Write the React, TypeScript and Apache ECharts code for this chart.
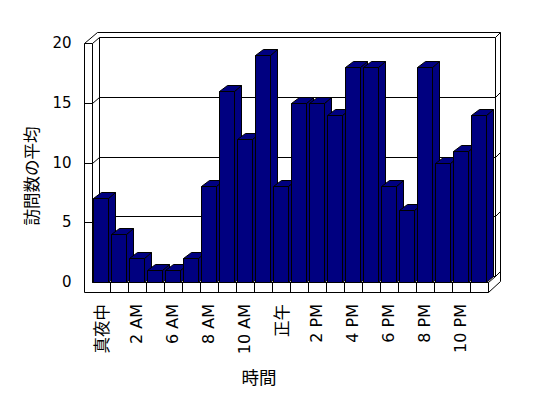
import React, { useEffect, useRef } from "react";
import * as echarts from "echarts";

const categories = [
  "真夜中", "1 AM", "2 AM", "3 AM", "6 AM", "7 AM", "8 AM", "9 AM", "10 AM", "11 AM",
  "正午", "1 PM", "2 PM", "3 PM", "4 PM", "5 PM", "6 PM", "7 PM", "8 PM", "9 PM", "10 PM", "11 PM",
];
const visits = [7, 4, 2, 1, 1, 2, 8, 16, 12, 19, 8, 15, 15, 14, 18, 18, 8, 6, 18, 10, 11, 14];
const yMin = 0;
const yMax = 20;
const yStep = 5;
const yAxisTitle = "訪問数の平均";
const xAxisTitle = "時間";

const DX = 7.5;
const DY = -6;
const BX = 5;
const BY = -5;
const WALL_T = 7.5;
const FLOOR_T = 10;
const FONT_LATIN = "'DejaVu Sans', 'Noto Sans CJK JP', sans-serif";
const FONT_CJK = "'Noto Sans CJK JP', sans-serif";

const s = (v: number) => Math.round(v) + 0.5;

function line(ax: number, ay: number, bx: number, by: number) {
  return {
    type: "line",
    shape: { x1: s(ax), y1: s(ay), x2: s(bx), y2: s(by) },
    style: { stroke: "#000", lineWidth: 1 },
  };
}
function poly(pts: number[][], fill: string, stroke = "#000") {
  return {
    type: "polygon",
    shape: { points: pts.map(([a, b]) => [s(a), s(b)]) },
    style: { fill, stroke, lineWidth: 1 },
  };
}

export default function App() {
  const ref = useRef<HTMLDivElement>(null);
  useEffect(() => {
    if (!ref.current) return;
    const chart = echarts.init(ref.current, null, { renderer: "svg" });
    const n = categories.length;
    const option = {
      animation: false,
      backgroundColor: "#fff",
      grid: { left: 91.5, right: 60.5, top: 43, bottom: 116 },
      xAxis: {
        type: "category",
        data: categories,
        boundaryGap: true,
        axisLine: { show: false },
        axisTick: { show: false },
        splitLine: { show: false },
        axisLabel: {
          interval: 1,
          rotate: 90,
          margin: 22,
          color: "#000",
          fontSize: 16,
          fontFamily: FONT_LATIN,
          formatter: (v: string) => (/[^\x00-\x7F]/.test(v) ? `{j|${v}}` : `{a|${v}}`),
          rich: {
            j: { fontSize: 16.5, fontFamily: FONT_CJK, color: "#000" },
            a: { fontSize: 16, fontFamily: FONT_LATIN, color: "#000" },
          },
        },
      },
      yAxis: {
        type: "value",
        min: yMin,
        max: yMax,
        interval: yStep,
        axisLine: { show: false },
        axisTick: { show: false },
        splitLine: { show: false },
        axisLabel: { margin: 20, color: "#000", fontSize: 15, fontFamily: FONT_LATIN },
      },
      graphic: [
        {
          type: "text",
          x: 31,
          y: 176,
          rotation: Math.PI / 2,
          style: {
            text: yAxisTitle,
            fill: "#000",
            fontSize: 16.5,
            fontFamily: FONT_CJK,
            textAlign: "center",
            textVerticalAlign: "middle",
          },
        },
        {
          type: "text",
          x: 259,
          y: 376,
          style: {
            text: xAxisTitle,
            fill: "#000",
            fontSize: 17.5,
            fontFamily: FONT_CJK,
            textAlign: "center",
            textVerticalAlign: "middle",
          },
        },
      ],
      series: [
        {
          type: "custom",
          z: 1,
          clip: false,
          silent: true,
          data: [[0, 0]],
          renderItem: (params: any, api: any) => {
            const cs = params.coordSys;
            const x0 = cs.x;
            const x1 = cs.x + cs.width;
            const yT = cs.y;
            const y0 = cs.y + cs.height;
            const w = cs.width / n;
            const children: any[] = [];
            children.push(
              poly(
                [
                  [x0 - WALL_T, yT],
                  [x0 - WALL_T + DX + BX, yT + DY + BY],
                  [x1 + DX + BX, yT + DY + BY],
                  [x1 + DX + BX, y0 + FLOOR_T + DY + BY],
                  [x1, y0 + FLOOR_T],
                  [x0 - WALL_T, y0 + FLOOR_T],
                ],
                "#fff"
              )
            );
            children.push(
              poly(
                [
                  [x0 + DX, yT + DY],
                  [x1 + DX, yT + DY],
                  [x1 + DX, y0 + DY],
                  [x0 + DX, y0 + DY],
                ],
                "#fff"
              )
            );
            children.push(
              poly(
                [
                  [x0, y0],
                  [x1, y0],
                  [x1 + DX, y0 + DY],
                  [x0 + DX, y0 + DY],
                ],
                "#fff"
              )
            );
            children.push(line(x0 - WALL_T, yT, x0, yT));
            children.push(line(x0, yT, x0 + DX, yT + DY));
            children.push(line(x0, yT, x0, y0));
            children.push(line(x0, y0, x1, y0));
            children.push(line(x1, y0, x1, y0 + FLOOR_T));
            children.push(line(x1 + DX, yT + DY, x1 + DX + BX, yT + DY + BY));
            children.push(line(x1 + DX, y0 + DY, x1 + DX + BX, y0 + DY + BY));
            for (let v = yMin + yStep; v < yMax; v += yStep) {
              const yv = api.coord([0, v])[1];
              children.push(line(x0 - WALL_T, yv, x0, yv));
              children.push(line(x0, yv, x0 + DX, yv + DY));
              children.push(line(x0 + DX, yv + DY, x1 + DX, yv + DY));
              children.push(line(x1 + DX, yv + DY, x1 + DX + BX, yv + DY + BY));
            }
            for (let k = 1; k < n; k++) {
              const xk = x0 + k * w;
              children.push(line(xk, y0, xk, y0 + FLOOR_T));
            }
            return { type: "group", children };
          },
        },
        {
          type: "custom",
          z: 2,
          clip: false,
          data: visits.map((v, i) => [i, v]),
          encode: { x: 0, y: 1 },
          renderItem: (params: any, api: any) => {
            const i = api.value(0);
            const v = api.value(1);
            const top = api.coord([i, v]);
            const base = api.coord([i, 0]);
            const bw = api.size([1, 0])[0] * 0.83;
            const l = top[0] - bw / 2;
            const r = top[0] + bw / 2;
            const yv = top[1];
            const yb = base[1];
            const fill = "#000080";
            return {
              type: "group",
              children: [
                poly([[r, yv], [r + DX, yv + DY], [r + DX, yb + DY], [r, yb]], fill),
                poly([[l, yv], [r, yv], [r + DX, yv + DY], [l + DX, yv + DY]], fill),
                poly([[l, yv], [r, yv], [r, yb], [l, yb]], fill),
              ],
            };
          },
        },
      ],
    };
    chart.setOption(option as any);
    return () => chart.dispose();
  }, []);
  return (
    <div
      ref={ref}
      style={{ position: "absolute", left: 0, top: 0, width: 548, height: 398 }}
    />
  );
}
